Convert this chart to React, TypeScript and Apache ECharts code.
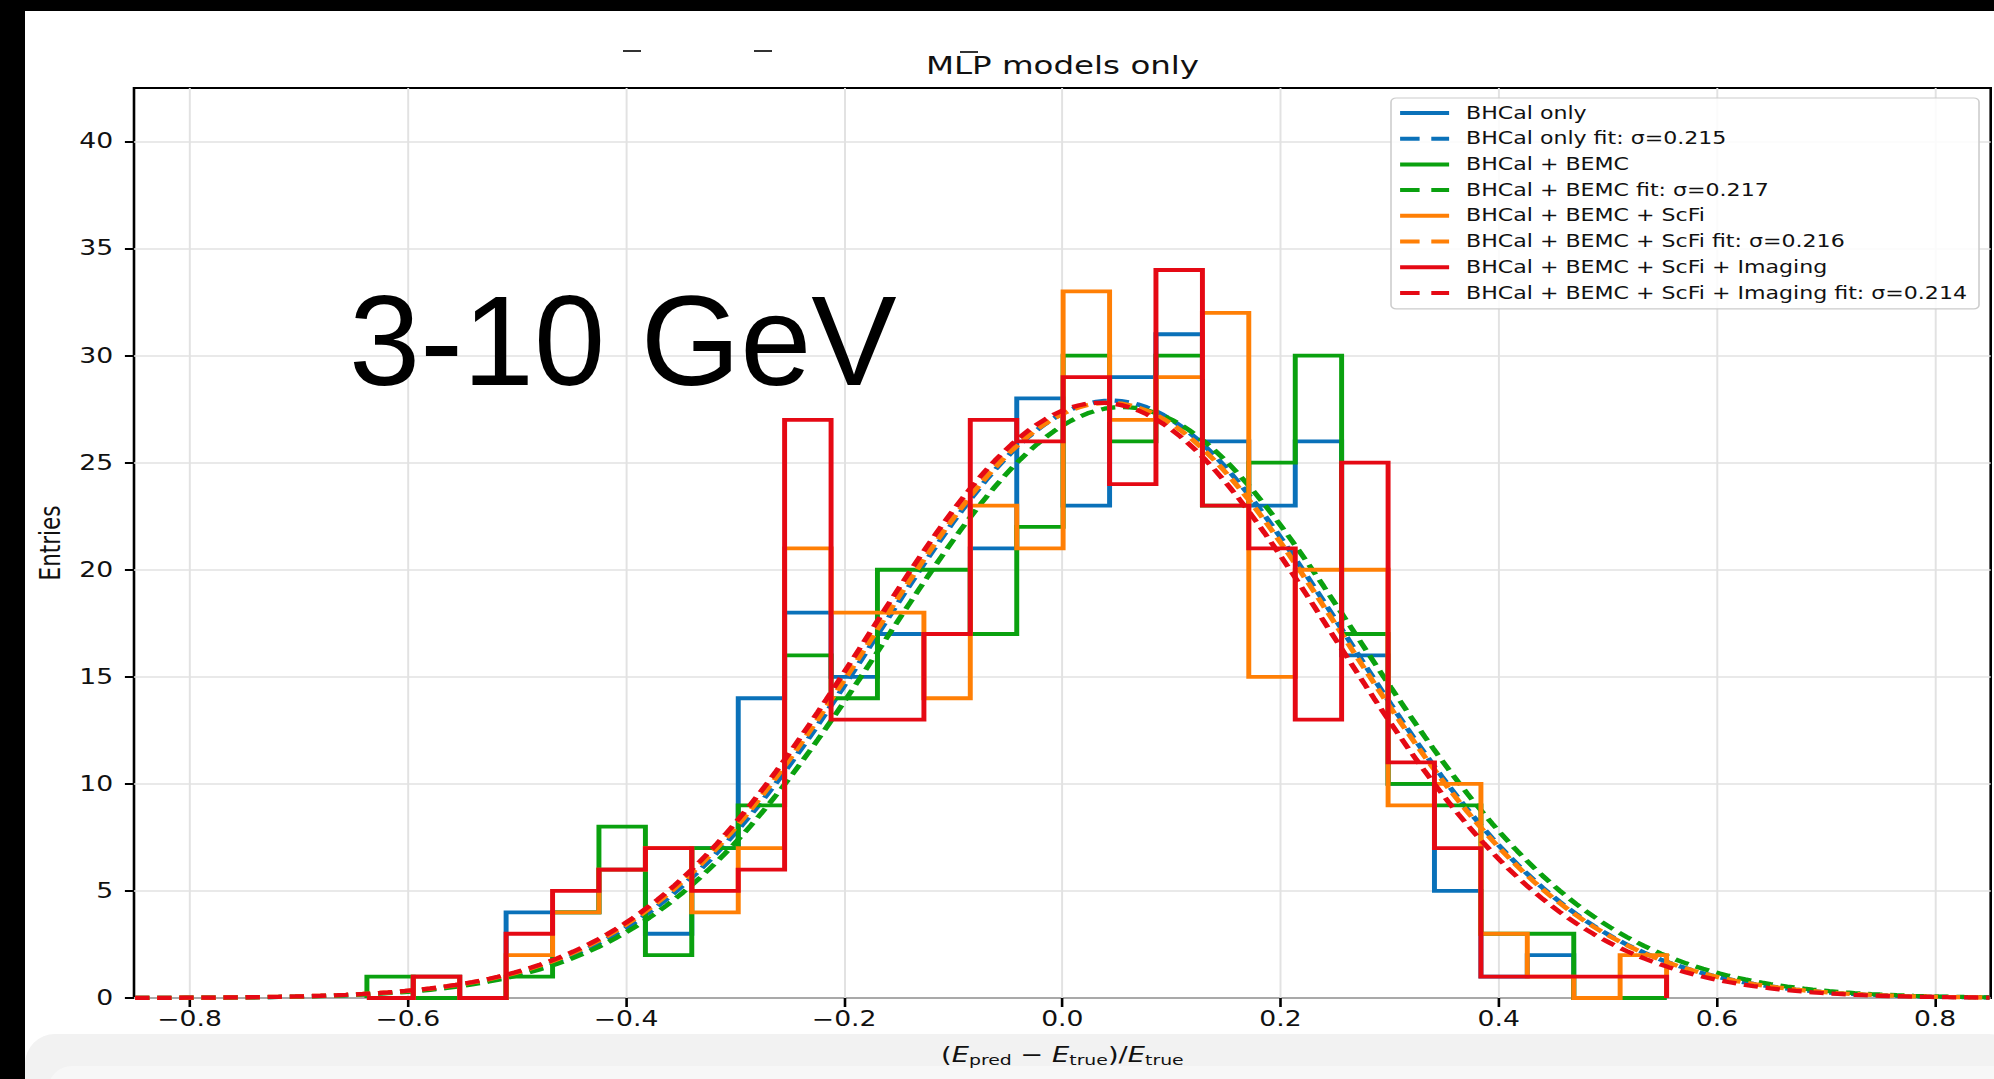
import React, { useEffect, useRef } from "react";
import * as echarts from "echarts";

// The original figure is a horizontally stretched screenshot; reproduce that stretch.
const STRETCH = 1.3;
const FULL_W = 1994;
const FULL_H = 1079;

// ---- data ----
const binEdges = [
  -0.6375, -0.595, -0.5524, -0.5099, -0.4673, -0.4248, -0.3822, -0.3397, -0.2971, -0.2546,
  -0.212, -0.1695, -0.1269, -0.0844, -0.0418, 0.0007, 0.0433, 0.0858, 0.1284, 0.1709,
  0.2135, 0.256, 0.2986, 0.3411, 0.3837, 0.4262, 0.4688, 0.5113, 0.5539,
];
const countsBHCal = [0, 1, 0, 4, 4, 6, 3, 7, 14, 18, 15, 17, 17, 21, 28, 23, 29, 31, 26, 23, 26, 16, 10, 5, 1, 2, 0, 0];
const countsBEMC = [1, 0, 0, 1, 4, 8, 2, 7, 9, 16, 14, 20, 20, 17, 22, 30, 26, 30, 23, 25, 30, 17, 10, 9, 3, 3, 0, 0];
const countsScFi = [0, 1, 0, 2, 4, 6, 7, 4, 7, 21, 18, 18, 14, 23, 21, 33, 27, 29, 32, 15, 20, 20, 9, 10, 3, 1, 0, 2];
const countsImaging = [0, 1, 0, 3, 5, 6, 7, 5, 6, 27, 13, 13, 17, 27, 26, 29, 24, 34, 23, 21, 13, 25, 11, 7, 1, 1, 1, 1];

const histNames = [
  "BHCal only",
  "BHCal + BEMC",
  "BHCal + BEMC + ScFi",
  "BHCal + BEMC + ScFi + Imaging",
];
const fitNames = [
  "BHCal only fit: σ=0.215",
  "BHCal + BEMC fit: σ=0.217",
  "BHCal + BEMC + ScFi fit: σ=0.216",
  "BHCal + BEMC + ScFi + Imaging fit: σ=0.214",
];
// Gaussian fit parameters (sigma from legend, mean/amplitude)
const fitMu = [0.045, 0.055, 0.042, 0.035];
const fitSigma = [0.215, 0.217, 0.216, 0.214];
const fitAmp = [27.9, 27.6, 27.8, 27.8];
const fitRange = [-0.85, 0.85];

const xTicks = [-0.8, -0.6, -0.4, -0.2, 0.0, 0.2, 0.4, 0.6, 0.8];
const yTicks = [0, 5, 10, 15, 20, 25, 30, 35, 40];
const xLimits = [-0.851, 0.851];
const yLimits = [0, 42.5];

const colors = ["#0a71b9", "#0aa10f", "#ff7f05", "#e50914"];

function stepOutline(edges: number[], counts: number[]) {
  const pts: number[][] = [[edges[0], 0]];
  counts.forEach((c, i) => {
    pts.push([edges[i], c], [edges[i + 1], c]);
  });
  pts.push([edges[edges.length - 1], 0]);
  return pts;
}

function gaussCurve(mu: number, sigma: number, amp: number) {
  const pts: number[][] = [];
  const n = 220;
  for (let i = 0; i <= n; i++) {
    const x = fitRange[0] + ((fitRange[1] - fitRange[0]) * i) / n;
    pts.push([x, amp * Math.exp(-((x - mu) * (x - mu)) / (2 * sigma * sigma))]);
  }
  return pts;
}

const FONT = "DejaVu Sans";

export default function App() {
  const ref = useRef<HTMLDivElement>(null);

  useEffect(() => {
    if (!ref.current) return;
    const chart = echarts.init(ref.current, null, { renderer: "svg" });
    const S = STRETCH;
    const allCounts = [countsBHCal, countsBEMC, countsScFi, countsImaging];

    const series: any[] = [];
    const legendData: any[] = [];
    for (let i = 0; i < 4; i++) {
      series.push({
        name: histNames[i],
        type: "line",
        data: stepOutline(binEdges, allCounts[i]),
        symbol: "none",
        showSymbol: false,
        clip: true,
        lineStyle: { color: colors[i], width: 3.8, join: "miter" },
        itemStyle: { color: colors[i] },
      });
      series.push({
        name: fitNames[i],
        type: "line",
        data: gaussCurve(fitMu[i], fitSigma[i], fitAmp[i]),
        symbol: "none",
        showSymbol: false,
        clip: true,
        lineStyle: { color: colors[i], width: 4.3, type: [11, 6] },
        itemStyle: { color: colors[i] },
      });
      legendData.push({
        name: histNames[i],
        itemStyle: { opacity: 0 },
        lineStyle: { width: 4, type: "solid" },
      });
      legendData.push({
        name: fitNames[i],
        itemStyle: { opacity: 0 },
        lineStyle: { width: 4, type: [15, 9] },
      });
    }

    const tickFmt = (v: number) => v.toFixed(1).replace("-", "\u2212");

    chart.setOption({
      animation: false,
      backgroundColor: "transparent",
      title: {
        text: "MLP models only",
        left: 1062.5 / S,
        top: 53,
        textAlign: "center",
        padding: 0,
        textStyle: { fontFamily: FONT, fontSize: 25, fontWeight: "normal", color: "#111" },
      },
      grid: {
        left: 134 / S,
        right: (FULL_W - 1990.5) / S,
        top: 88,
        bottom: FULL_H - 998,
        show: true,
        borderColor: "#000",
        borderWidth: 2,
        backgroundColor: "transparent",
      },
      legend: {
        orient: "vertical",
        left: 1391 / S,
        top: 98,
        padding: [6, 9, 7, 5],
        itemWidth: 37.7,
        itemHeight: 14,
        itemGap: 7.7,
        backgroundColor: "rgba(255,255,255,0.85)",
        borderColor: "#cccccc",
        borderWidth: 1.2,
        borderRadius: 4,
        itemStyle: { opacity: 0 },
        data: legendData,
        textStyle: {
          fontFamily: FONT,
          fontSize: 17,
          lineHeight: 18,
          color: "#111",
          padding: [0, 0, 0, 8],
        },
        z: 10,
      },
      xAxis: {
        type: "value",
        min: xLimits[0],
        max: xLimits[1],
        splitNumber: 8,
        axisLine: { show: false, onZero: false },
        axisTick: {
          show: true,
          length: 9,
          customValues: xTicks,
          lineStyle: { color: "#000", width: 2 },
        },
        axisLabel: {
          customValues: xTicks,
          formatter: tickFmt,
          fontFamily: FONT,
          fontSize: 20.5,
          color: "#111",
          margin: 11,
        },
        splitLine: { show: true, customValues: xTicks, lineStyle: { color: "#e2e2e2", width: 1.5 } },
        name: "({e|E}{s|pred} \u2212 {e|E}{s|true})/{e|E}{s|true}",
        nameLocation: "middle",
        nameGap: 45,
        nameTextStyle: {
          fontFamily: FONT,
          fontSize: 21,
          color: "#111",
          lineHeight: 24,
          rich: {
            e: { fontFamily: FONT, fontSize: 21, fontStyle: "italic", color: "#111", lineHeight: 24 },
            s: { fontFamily: FONT, fontSize: 14.5, color: "#111", lineHeight: 10, verticalAlign: "bottom" },
          },
        },
      },
      yAxis: {
        type: "value",
        min: yLimits[0],
        max: yLimits[1],
        interval: 5,
        axisLine: { show: false, onZero: false },
        axisTick: {
          show: true,
          length: 7,
          customValues: yTicks,
          lineStyle: { color: "#000", width: 2 },
        },
        axisLabel: {
          customValues: yTicks,
          fontFamily: FONT,
          fontSize: 20.5,
          color: "#111",
          margin: 16,
        },
        splitLine: { show: true, customValues: yTicks, lineStyle: { color: "#e2e2e2", width: 1.5 } },
        name: "Entries",
        nameLocation: "middle",
        nameRotate: 90,
        nameGap: 51,
        nameTextStyle: { fontFamily: FONT, fontSize: 21.5, color: "#111" },
      },
      graphic: [
        {
          type: "text",
          x: 349 / S,
          y: 276.6,
          scaleX: 1 / S,
          z: 20,
          style: {
            text: "3-10 GeV",
            fontFamily: "Liberation Sans",
            fontSize: 128,
            fill: "#000",
            verticalAlign: "top",
            align: "left",
          },
        },
        { type: "line", z: 20, shape: { x1: 623 / S, y1: 51, x2: 641 / S, y2: 51 }, style: { stroke: "#333", lineWidth: 2 } },
        { type: "line", z: 20, shape: { x1: 754 / S, y1: 51, x2: 772 / S, y2: 51 }, style: { stroke: "#333", lineWidth: 2 } },
        { type: "line", z: 20, shape: { x1: 960 / S, y1: 52, x2: 978 / S, y2: 52 }, style: { stroke: "#333", lineWidth: 2 } },
      ],
      series,
    });
    return () => chart.dispose();
  }, []);

  return (
    <div
      style={{
        position: "fixed",
        left: 0,
        top: 0,
        width: FULL_W,
        height: FULL_H,
        background: "#fff",
        overflow: "hidden",
      }}
    >
      <div
        style={{
          position: "absolute",
          left: 25,
          top: 1034,
          width: FULL_W,
          height: 90,
          background: "#f2f2f2",
          borderRadius: 30,
        }}
      />
      <div
        style={{
          position: "absolute",
          left: 48,
          top: 1066,
          width: FULL_W,
          height: 60,
          background: "#f7f7f7",
          borderRadius: 24,
        }}
      />
      <div
        ref={ref}
        style={{
          position: "absolute",
          left: 0,
          top: 0,
          width: FULL_W / STRETCH,
          height: FULL_H,
          transform: `scaleX(${STRETCH})`,
          transformOrigin: "0 0",
        }}
      />
      <div style={{ position: "absolute", left: 0, top: 0, width: FULL_W, height: 11, background: "#000" }} />
      <div style={{ position: "absolute", left: 0, top: 0, width: 25, height: FULL_H, background: "#000" }} />
    </div>
  );
}
